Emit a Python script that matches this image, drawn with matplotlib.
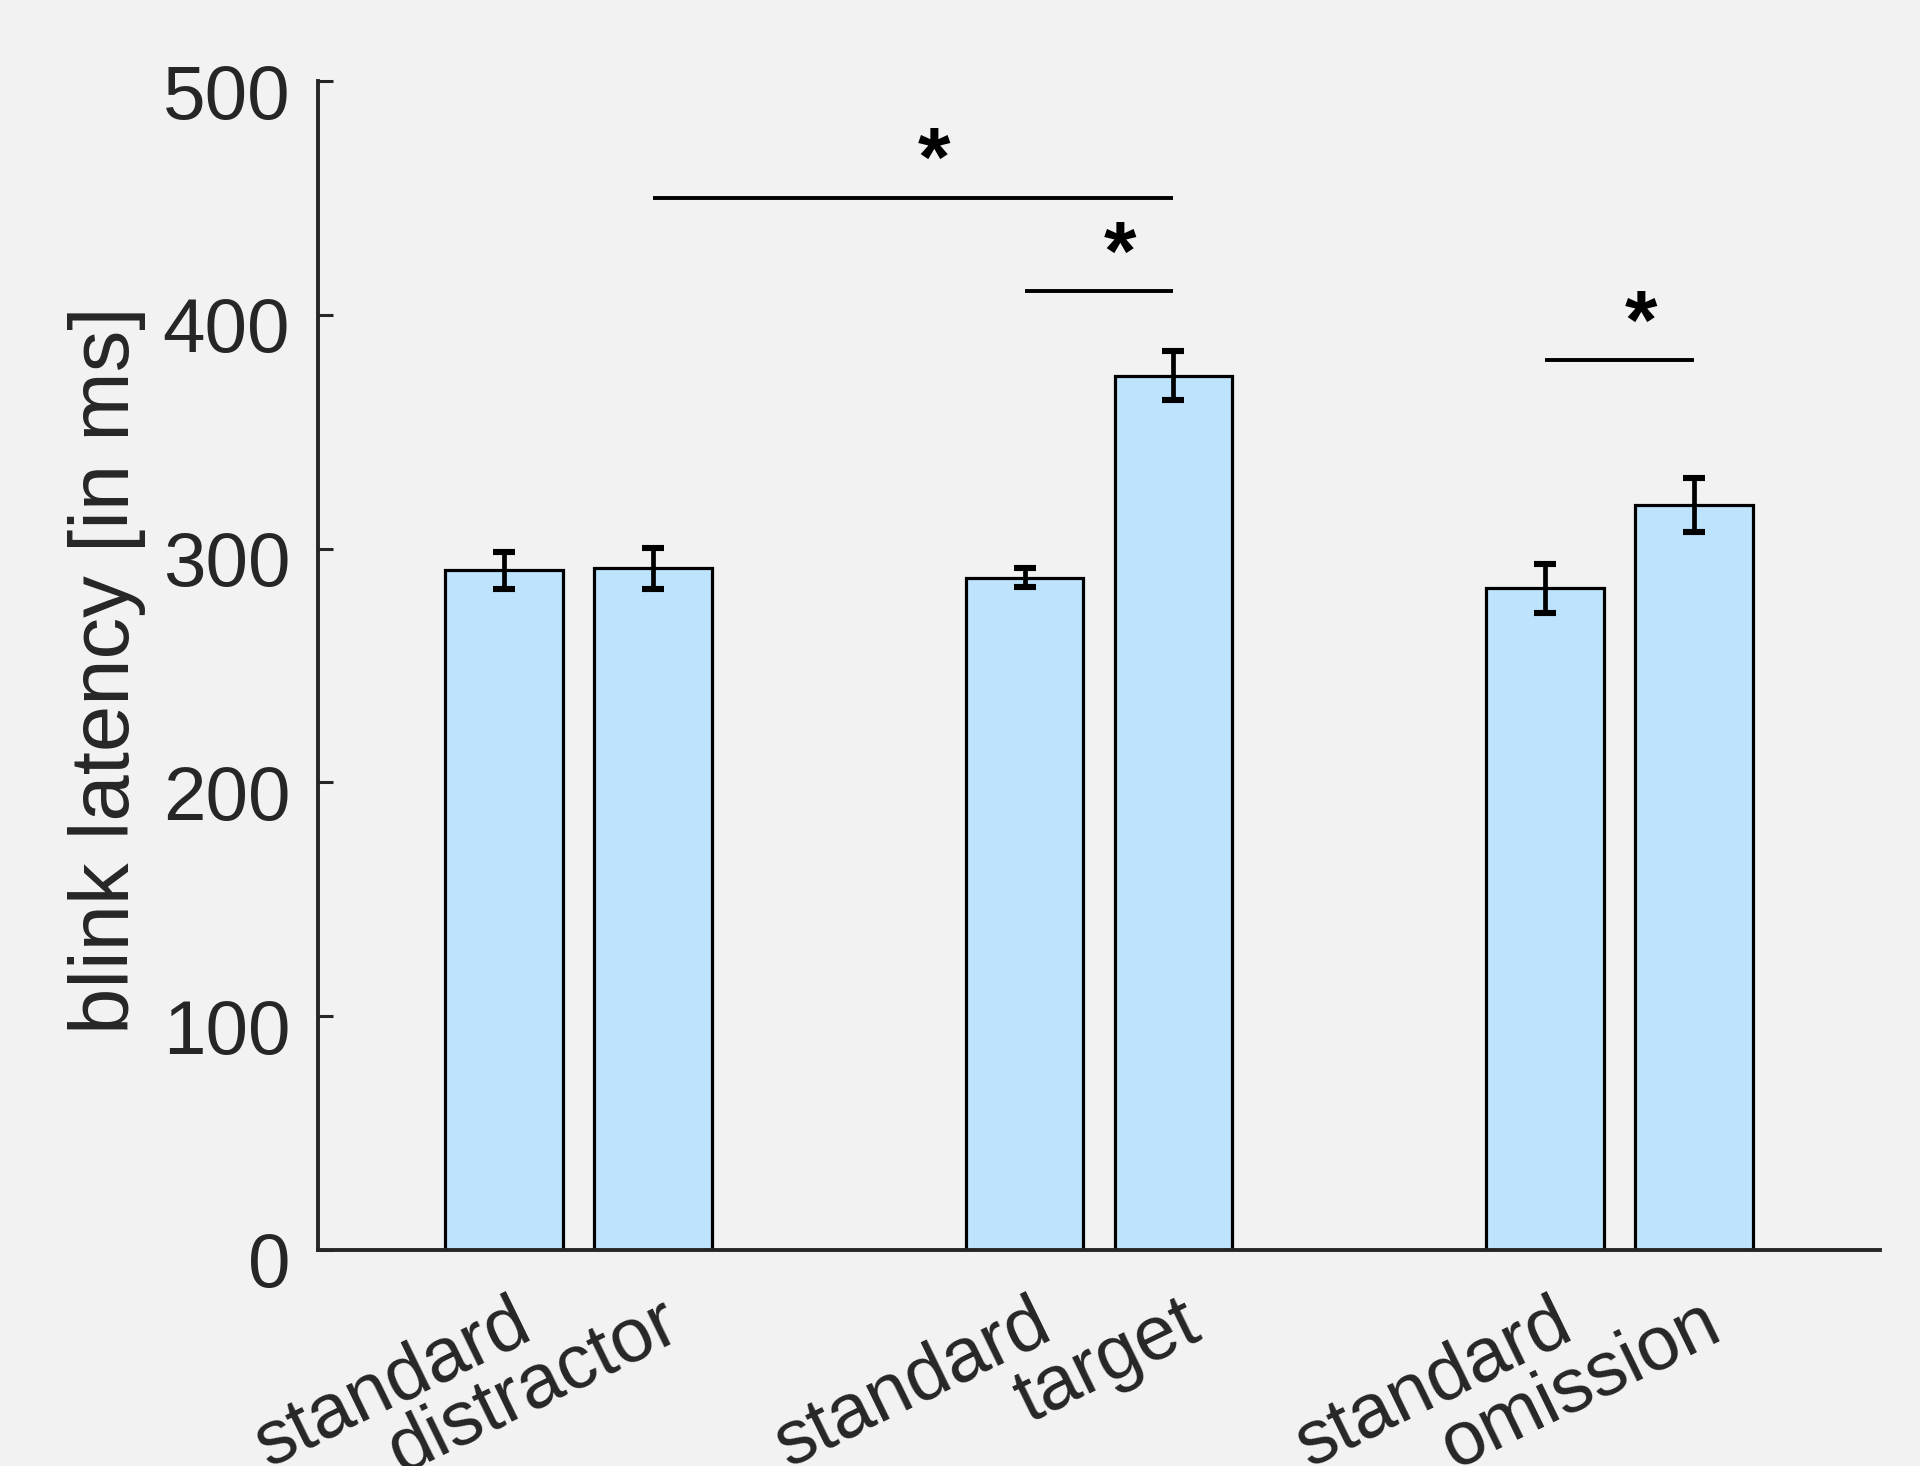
import matplotlib
matplotlib.use("Agg")
import matplotlib.pyplot as plt
import matplotlib.transforms as mtransforms
import numpy as np

# ---- data ----
groups = [1, 2, 3]
tick_labels = ["standard", "distractor", "standard", "target", "standard", "omission"]
means = [290.7, 291.6, 287.5, 374.0, 283.0, 318.5]
errors = [8.0, 8.8, 4.0, 10.5, 10.5, 11.5]
sig_pairs = [(1, 3), (2, 3), (4, 5)]   # indices of bars compared
sig_heights = [450, 410, 380.5]
sig_labels = ["*", "*", "*"]

# ---- style ----
BG = "#f2f2f2"
TXT = "#262626"
BAR = "#bde3fd"
offset = 0.143
width = 0.226

plt.rcParams['font.family'] = ['Liberation Sans', 'DejaVu Sans']

fig = plt.figure(figsize=(19.2, 14.66), dpi=100, facecolor=BG)
ax = fig.add_axes([318/1920, 1-1250/1466, (1880-318)/1920, (1250-81)/1466])
ax.set_facecolor(BG)

xpos = []
for g in groups:
    xpos += [g - offset, g + offset]
xpos = np.array(xpos)

ax.bar(xpos, means, width=width, color=BAR, edgecolor="black", linewidth=2.3, zorder=2)
ax.errorbar(xpos, means, yerr=errors, fmt="none", ecolor="black", elinewidth=3.4,
            capsize=8, capthick=4.4, zorder=3)

for (i, j), h, lab in zip(sig_pairs, sig_heights, sig_labels):
    ax.plot([xpos[i], xpos[j]], [h, h], color="black", linewidth=2.8, zorder=3,
            solid_capstyle="butt")
    mid = (xpos[i] + xpos[j]) / 2
    ax.text(mid + 0.04, h + 14.5, lab, ha="center", va="center", fontsize=60,
            fontweight="bold", color="black")

ax.set_xlim(0.5, 3.5)
ax.set_ylim(0, 500)
ax.set_yticks([0, 100, 200, 300, 400, 500])
ax.set_xticks(xpos)
ax.set_xticklabels(tick_labels, rotation=26, ha="right", va="top",
                   rotation_mode="anchor", fontsize=55, color=TXT)
ax.tick_params(axis="x", length=0, pad=27)
ax.tick_params(axis="y", direction="in", length=10.8, width=2.2, color=TXT,
               labelsize=55, labelcolor=TXT, pad=20)

for lab in ax.get_xticklabels():
    lab.set_transform(lab.get_transform() + mtransforms.ScaledTranslation(7/100, 0, fig.dpi_scale_trans))
for lab in ax.get_yticklabels():
    lab.set_transform(lab.get_transform() + mtransforms.ScaledTranslation(0, -10/100, fig.dpi_scale_trans))

for s in ["top", "right"]:
    ax.spines[s].set_visible(False)
for s in ["left", "bottom"]:
    ax.spines[s].set_color(TXT)
    ax.spines[s].set_linewidth(2.8)

ax.set_ylabel("blink latency [in ms]", fontsize=60, color=TXT, va="center")
ax.yaxis.set_label_coords(-0.135, 0.496)

fig.savefig("out.png", dpi=100, facecolor=BG)
